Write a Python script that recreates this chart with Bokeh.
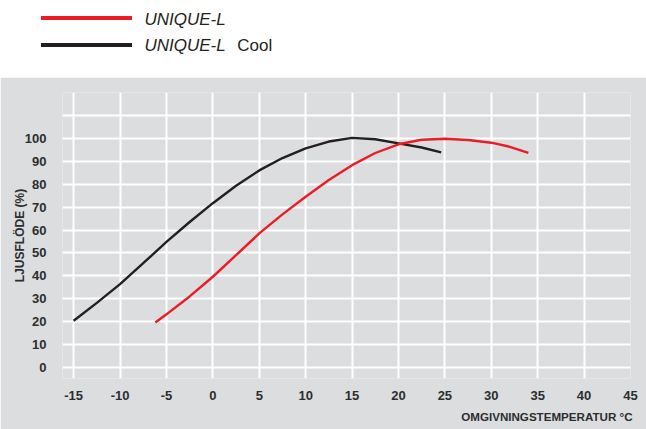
from bokeh.plotting import figure
from bokeh.layouts import column
from bokeh.models import Range1d, FixedTicker, Div, Title
from bokeh.embed import file_html
from bokeh.resources import INLINE

# ---- data ----
cool_x = [-15, -12.5, -10, -7.5, -5, -2.5, 0, 2.5, 5, 7.5, 10, 12.5, 15, 17.5, 20, 22.5, 24.6]
cool_y = [20.4, 28.2, 36.4, 45.5, 54.8, 63.5, 71.7, 79.3, 86.0, 91.4, 95.6, 98.6, 100.2, 99.6, 97.8, 96.0, 93.9]

std_x = [-6.2, -5, -2.5, 0, 2.5, 5, 7.5, 10, 12.5, 15, 17.5, 20, 22.5, 25, 27.5, 30, 32, 34]
std_y = [19.6, 23.2, 31.0, 39.6, 49.0, 58.5, 66.8, 74.5, 81.8, 88.3, 93.6, 97.4, 99.4, 99.8, 99.3, 98.1, 96.3, 93.7]

x_ticks = [-15, -10, -5, 0, 5, 10, 15, 20, 25, 30, 35, 40, 45]
y_ticks = [0, 10, 20, 30, 40, 50, 60, 70, 80, 90, 100]
y_grid = [0, 10, 20, 30, 40, 50, 60, 70, 80, 90, 100, 110, 120]

series_names = ["UNIQUE-L", "UNIQUE-L"]
series_suffix = ["", "Cool"]
x_title = "OMGIVNINGSTEMPERATUR °C"
y_title = "LJUSFLÖDE (%)"

RED = "#ec1c24"
BLACK = "#231f20"
PANEL = "#dcdddf"
TXT = "#2b2e30"
FONT = "Liberation Sans"

W = 646
LEG_H = 77
H = 352

# ---- legend strip (HTML) ----
def sw(top, color):
    return (f'<div style="position:absolute;left:41px;top:{top}px;width:91px;height:4px;'
            f'background:{color};"></div>')

def txt(left, top, s, italic):
    st = "italic" if italic else "normal"
    return (f'<div style="position:absolute;left:{left}px;top:{top}px;line-height:1;'
            f'white-space:nowrap;font-style:{st};">{s}</div>')

legend_html = (
    f'<div style="position:relative;width:{W}px;height:{LEG_H}px;background:white;'
    f'font-family:\'{FONT}\';font-size:17px;color:{BLACK};">'
    + sw(16.3, RED) + sw(43, BLACK)
    + txt(144.5, 11.1, series_names[0], True)
    + txt(144.5, 37.1, series_names[1], True)
    + txt(237.3, 37.1, series_suffix[1], False)
    + '</div>'
)
leg = Div(text=legend_html, width=W, height=LEG_H, margin=0)

# ---- main chart ----
p = figure(width=W, height=H, output_backend="svg", toolbar_location=None,
           x_range=Range1d(-16.2, 45), y_range=Range1d(-4.8, 120),
           min_border_left=62, min_border_right=16, min_border_top=15, min_border_bottom=51,
           outline_line_color=None)
p.background_fill_color = PANEL
p.border_fill_color = PANEL

p.line(cool_x, cool_y, line_color=BLACK, line_width=2.4)
p.line(std_x, std_y, line_color=RED, line_width=2.4)

p.xaxis.ticker = FixedTicker(ticks=x_ticks)
p.yaxis.ticker = FixedTicker(ticks=y_ticks)
p.xgrid.ticker = FixedTicker(ticks=x_ticks)
p.ygrid.ticker = FixedTicker(ticks=y_grid)
p.grid.grid_line_color = "white"
p.grid.grid_line_width = 2

for ax in (p.xaxis, p.yaxis):
    ax.axis_line_color = None
    ax.major_tick_line_color = None
    ax.minor_tick_line_color = None
    ax.major_tick_in = 0
    ax.major_tick_out = 0
    ax.major_label_text_font = FONT
    ax.major_label_text_font_style = "bold"
    ax.major_label_text_font_size = "13px"
    ax.major_label_text_color = TXT

# plain hyphen for negative tick labels, as in the reference
p.xaxis.major_label_overrides = {t: str(t) for t in x_ticks if t < 0}

p.xaxis.major_label_standoff = 12
p.yaxis.major_label_standoff = 16

p.yaxis.axis_label = y_title
p.yaxis.axis_label_text_font = FONT
p.yaxis.axis_label_text_font_style = "bold"
p.yaxis.axis_label_text_font_size = "12px"
p.yaxis.axis_label_text_color = TXT
p.yaxis.axis_label_standoff = -5

p.add_layout(Title(text=x_title, align="right", offset=-2, standoff=11,
                   text_font=FONT, text_font_style="bold", text_font_size="11.6px",
                   text_color=TXT), "below")

layout = column(leg, p, spacing=0)
open("out.html", "w").write(file_html(layout, INLINE))
